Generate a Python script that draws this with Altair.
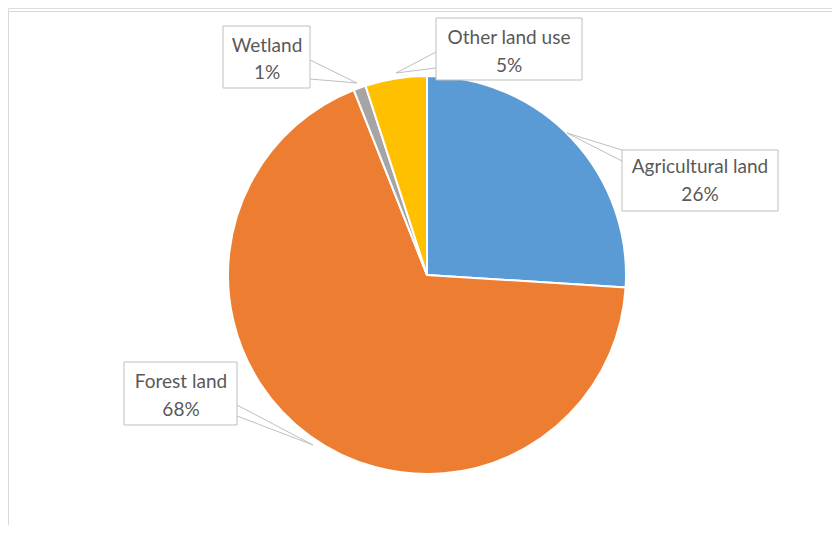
import altair as alt
import pandas as pd

# ---- data ----
categories = ["Agricultural land", "Forest land", "Wetland", "Other land use"]
values = [26, 68, 1, 5]
pct_labels = ["26%", "68%", "1%", "5%"]
colors = ["#5B9BD5", "#ED7D31", "#A5A5A5", "#FFC000"]

# ---- layout (page pixels; converted to chart pixels below) ----
M = 8
box_x = [622, 124, 223, 436]
box_x2 = [778, 237, 310, 582]
box_y = [150, 362, 26, 18]
box_y2 = [211, 425, 88, 80]
text_cx = [700, 181, 267, 509]
line1_y = [167, 382, 46, 38]
line2_y = [195, 410, 73, 66]
tip_x = [567, 313, 357, 396]
tip_y = [133, 445, 83, 73]
root_x = [622, 237, 310, 436]
root_ya = [150, 405, 60, 52]
root_yb = [161, 416, 79, 68]

W, H = 824, 517
CX, CY, R = 427 - M, 275 - M, 199

pie_df = pd.DataFrame({"category": categories, "value": values,
                       "order": list(range(len(categories)))})

lab = pd.DataFrame({
    "category": categories,
    "pct": pct_labels,
    "bx": [v - M for v in box_x], "bx2": [v - M for v in box_x2],
    "by": [v - M for v in box_y], "by2": [v - M for v in box_y2],
    "tx": [v - M for v in text_cx],
    "t1": [v - M for v in line1_y], "t2": [v - M for v in line2_y],
    "px": [v - M for v in tip_x], "py": [v - M for v in tip_y],
    "rx": [v - M for v in root_x],
    "rya": [v - M for v in root_ya], "ryb": [v - M for v in root_yb],
})

frame_top = alt.Chart(pd.DataFrame({"a": [0]})).mark_rule(color="#D9D9D9", strokeWidth=1).encode(
    x=alt.value(0), x2=alt.value(W), y=alt.value(3.5))
frame_left = alt.Chart(pd.DataFrame({"a": [0]})).mark_rule(color="#D9D9D9", strokeWidth=1).encode(
    x=alt.value(0.5), y=alt.value(3), y2=alt.value(H))

pie = alt.Chart(pie_df).mark_arc(radius=R, stroke="white", strokeWidth=2).encode(
    theta=alt.Theta("value:Q", stack=True),
    order=alt.Order("order:Q"),
    color=alt.Color("category:N", scale=alt.Scale(domain=categories, range=colors), legend=None),
    x=alt.value(CX), y=alt.value(CY),
)

lead_a = alt.Chart(lab).mark_rule(color="#BFBFBF", strokeWidth=1).encode(
    x=alt.X("px:Q", scale=None), y=alt.Y("py:Q", scale=None),
    x2="rx:Q", y2="rya:Q")
lead_b = alt.Chart(lab).mark_rule(color="#BFBFBF", strokeWidth=1).encode(
    x=alt.X("px:Q", scale=None), y=alt.Y("py:Q", scale=None),
    x2="rx:Q", y2="ryb:Q")

boxes = alt.Chart(lab).mark_rect(fill="white", stroke="#BFBFBF", strokeWidth=1).encode(
    x=alt.X("bx:Q", scale=None), x2="bx2:Q",
    y=alt.Y("by:Q", scale=None), y2="by2:Q")

txt_style = dict(font="Lato", fontSize=19, color="#595959", align="center", baseline="middle")
text1 = alt.Chart(lab).mark_text(**txt_style).encode(
    x=alt.X("tx:Q", scale=None), y=alt.Y("t1:Q", scale=None), text="category:N")
text2 = alt.Chart(lab).mark_text(**txt_style).encode(
    x=alt.X("tx:Q", scale=None), y=alt.Y("t2:Q", scale=None), text="pct:N")

chart = alt.layer(frame_top, frame_left, pie, lead_a, lead_b, boxes, text1, text2).properties(
    width=W, height=H, padding=0, autosize=alt.AutoSizeParams(type="none"),
).configure_view(stroke=None).configure(background="white")

chart.save("out.html", embed_options={"renderer": "svg", "actions": False})
